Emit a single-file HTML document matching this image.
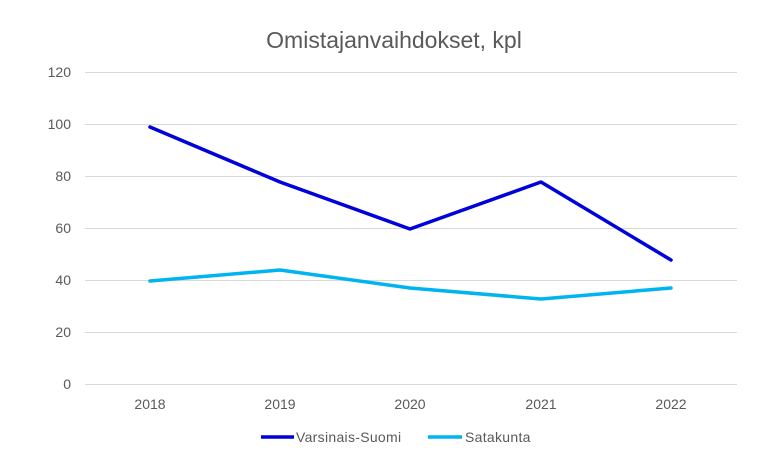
<!DOCTYPE html>
<html><head><style>body{margin:0;background:#fff}svg{display:block}</style></head><body>
<svg width="783" height="471" xmlns="http://www.w3.org/2000/svg" font-family="Liberation Sans, sans-serif">
<rect width="783" height="471" fill="#fff"/>
<text x="394" y="48" font-size="23" fill="#595959" text-anchor="middle">Omistajanvaihdokset, kpl</text>
<g stroke="#d9d9d9" stroke-width="1">
<line x1="85" x2="737" y1="72.5" y2="72.5"/><line x1="85" x2="737" y1="124.5" y2="124.5"/>
<line x1="85" x2="737" y1="176.5" y2="176.5"/><line x1="85" x2="737" y1="228.5" y2="228.5"/>
<line x1="85" x2="737" y1="280.5" y2="280.5"/><line x1="85" x2="737" y1="332.5" y2="332.5"/>
<line x1="85" x2="737" y1="384.5" y2="384.5"/>
</g>
<g font-size="14" fill="#595959" text-anchor="end">
<text x="71" y="77">120</text><text x="71" y="129">100</text><text x="71" y="181">80</text>
<text x="71" y="233">60</text><text x="71" y="285">40</text><text x="71" y="337">20</text><text x="71" y="389">0</text>
</g>
<g font-size="14" fill="#595959" text-anchor="middle">
<text x="150" y="409">2018</text><text x="280" y="409">2019</text><text x="410" y="409">2020</text>
<text x="541" y="409">2021</text><text x="671" y="409">2022</text>
</g>
<polyline fill="none" stroke="#0000dc" stroke-width="3.5" stroke-linejoin="round" stroke-linecap="round" points="150,127 280,182 410,229 541,182 671,260"/>
<polyline fill="none" stroke="#00b4f0" stroke-width="3.5" stroke-linejoin="round" stroke-linecap="round" points="150,281 280,270 410,288 541,299 671,288"/>
<line x1="261" x2="294" y1="437" y2="437" stroke="#0000dc" stroke-width="3.5"/>
<text x="296" y="442" font-size="14" letter-spacing="0.3" fill="#595959">Varsinais-Suomi</text>
<line x1="428" x2="462" y1="437" y2="437" stroke="#00b4f0" stroke-width="3.5"/>
<text x="465" y="442" font-size="14" letter-spacing="0.3" fill="#595959">Satakunta</text>
</svg>
</body></html>
